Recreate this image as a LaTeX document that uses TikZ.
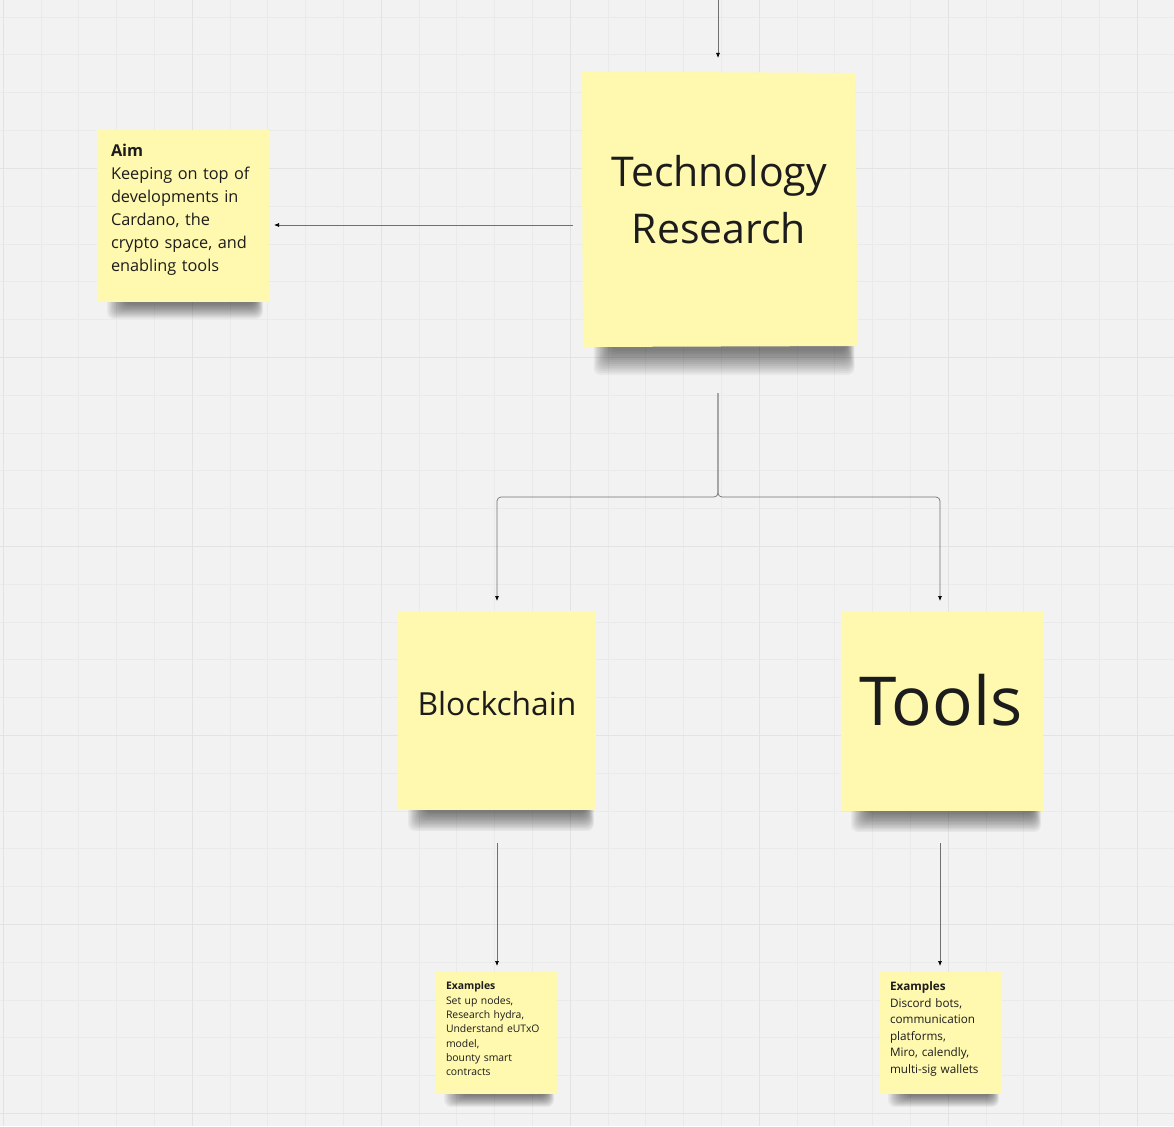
\documentclass[tikz,border=0pt]{standalone}
\usepackage{fontspec}
\setmainfont{Open Sans}
\usetikzlibrary{arrows.meta,calc}
\definecolor{bgc}{HTML}{F2F2F2}
\definecolor{gridminor}{HTML}{EAEAEA}
\definecolor{gridmajor}{HTML}{E3E3E3}
\definecolor{notey}{HTML}{FFF8AF}
\definecolor{linec}{HTML}{707070}
\definecolor{textc}{HTML}{1C1C1C}
\pgfdeclarelayer{gridlayer}
\pgfdeclarelayer{shadowlayer}
\pgfsetlayers{gridlayer,shadowlayer,main}
\newcommand\noteshadow[4]{%
  \begin{pgfonlayer}{shadowlayer}
  \foreach \k in {0,...,13}{
    \fill[black,opacity=0.042,rounded corners=7pt]
      ($(#1.south west)+({#2+\k*1.3},-8)$) rectangle ($(#1.south east)+({-#3-\k*0.6},{#4-\k*#4/15})$);
  }
  \end{pgfonlayer}}
\begin{document}
\begin{tikzpicture}[x=1pt,y=-1pt,
  note/.style={fill=notey,inner sep=0pt,outer sep=0pt},
  notetext/.style={text=textc,inner sep=0pt,outer sep=0pt},
  conn/.style={draw=linec,line width=0.7pt,-{Latex[length=5pt,width=4pt,black]}}]
\useasboundingbox (0,0) rectangle (1174,1126);
\begin{pgfonlayer}{gridlayer}
  \fill[bgc] (0,0) rectangle (1174,1126);
  \foreach \i in {0,...,31}{\draw[gridminor,line width=0.6pt] ({3+37.8*\i},0) -- ({3+37.8*\i},1126);}
  \foreach \i in {0,...,29}{\draw[gridminor,line width=0.6pt] (0,{17+37.8*\i}) -- (1174,{17+37.8*\i});}
  \foreach \i in {0,...,6}{\draw[gridmajor,line width=0.9pt] ({3+189*\i},0) -- ({3+189*\i},1126);}
  \foreach \i in {1,...,6}{\draw[gridmajor,line width=0.9pt] (0,{-21+189*\i}) -- (1174,{-21+189*\i});}
\end{pgfonlayer}

% sticky notes
\node[note,minimum width=172pt,minimum height=172pt] (aim) at (183,216) {};
\node[inner sep=0pt,outer sep=0pt,minimum width=275pt,minimum height=277pt] (tech) at (719,208.5) {};
\node[note,minimum width=198pt,minimum height=199pt] (block) at (497,710.5) {};
\node[note,minimum width=202pt,minimum height=199pt] (tools) at (942,711.5) {};
\node[note,minimum width=121pt,minimum height=122pt] (exl) at (496.5,1033) {};
\node[note,minimum width=122pt,minimum height=122pt] (exr) at (941,1033) {};

\noteshadow{aim}{10}{6}{17}
\noteshadow{tech}{12}{2}{28}
\noteshadow{block}{10}{2}{21}
\noteshadow{tools}{10}{2}{21}
\noteshadow{exl}{8}{3}{13}
\noteshadow{exr}{8}{3}{13}
\begin{pgfonlayer}{shadowlayer}
  \fill[notey] ($(tech.north west)+(0,1.5)$) -- ($(tech.north east)+(-1,3)$) -- ($(tech.south east)+(1,-1)$) -- ($(tech.south west)+(1.5,0)$) -- cycle;
\end{pgfonlayer}

% texts
\node[notetext,font=\fontsize{41}{57}\selectfont,align=center] (techtxt) at (719,200) {Technology\\Research};
\node[notetext,font=\fontsize{31.8}{36}\selectfont] (blocktxt) at (497,704) {Blockchain};
\node[notetext,font=\fontsize{67.5}{72}\selectfont] (toolstxt) at (941,700) {Tools};
\node[notetext,font=\fontsize{16.3}{23}\selectfont,text width=152pt,align=left,anchor=north west] (aimtxt) at (111,144.5)
  {\textbf{Aim}\\Keeping on top of\\developments in\\Cardano, the\\crypto space, and\\enabling tools};
\node[notetext,font=\fontsize{10.4}{14.3}\selectfont,text width=110pt,align=left,anchor=north west] (exltxt) at (446,982)
  {\textbf{Examples}\\Set up nodes,\\Research hydra,\\Understand eUTxO\\model,\\bounty smart\\contracts};
\node[notetext,font=\fontsize{11.7}{16.5}\selectfont,text width=110pt,align=left,anchor=north west] (exrtxt) at (890,982)
  {\textbf{Examples}\\Discord bots,\\communication\\platforms,\\Miro, calendly,\\multi-sig wallets};

% connectors
\coordinate (topin) at (718,0);
\coordinate (split) at ($(tech.south)+(-1,150)$);
\draw[conn] (topin) -- ($(tech.north)+(-1,-12)$);
\draw[conn] ($(tech.west)+(-9,16.5)$) -- ($(aim.east)+(5,9)$);
\draw[conn,rounded corners=4pt] ($(tech.south)+(-1,46)$) -- (split) -| ($(block.north)+(0,-10)$);
\draw[conn,rounded corners=4pt] ($(tech.south)+(-1,46)$) -- (split) -| ($(tools.north)+(-2,-11)$);
\draw[conn] ($(block.south)+(0,33)$) -- ($(exl.north)+(0.5,-6)$);
\draw[conn] ($(tools.south)+(-2,32)$) -- ($(exr.north)+(-1,-6)$);
\end{tikzpicture}
\end{document}
